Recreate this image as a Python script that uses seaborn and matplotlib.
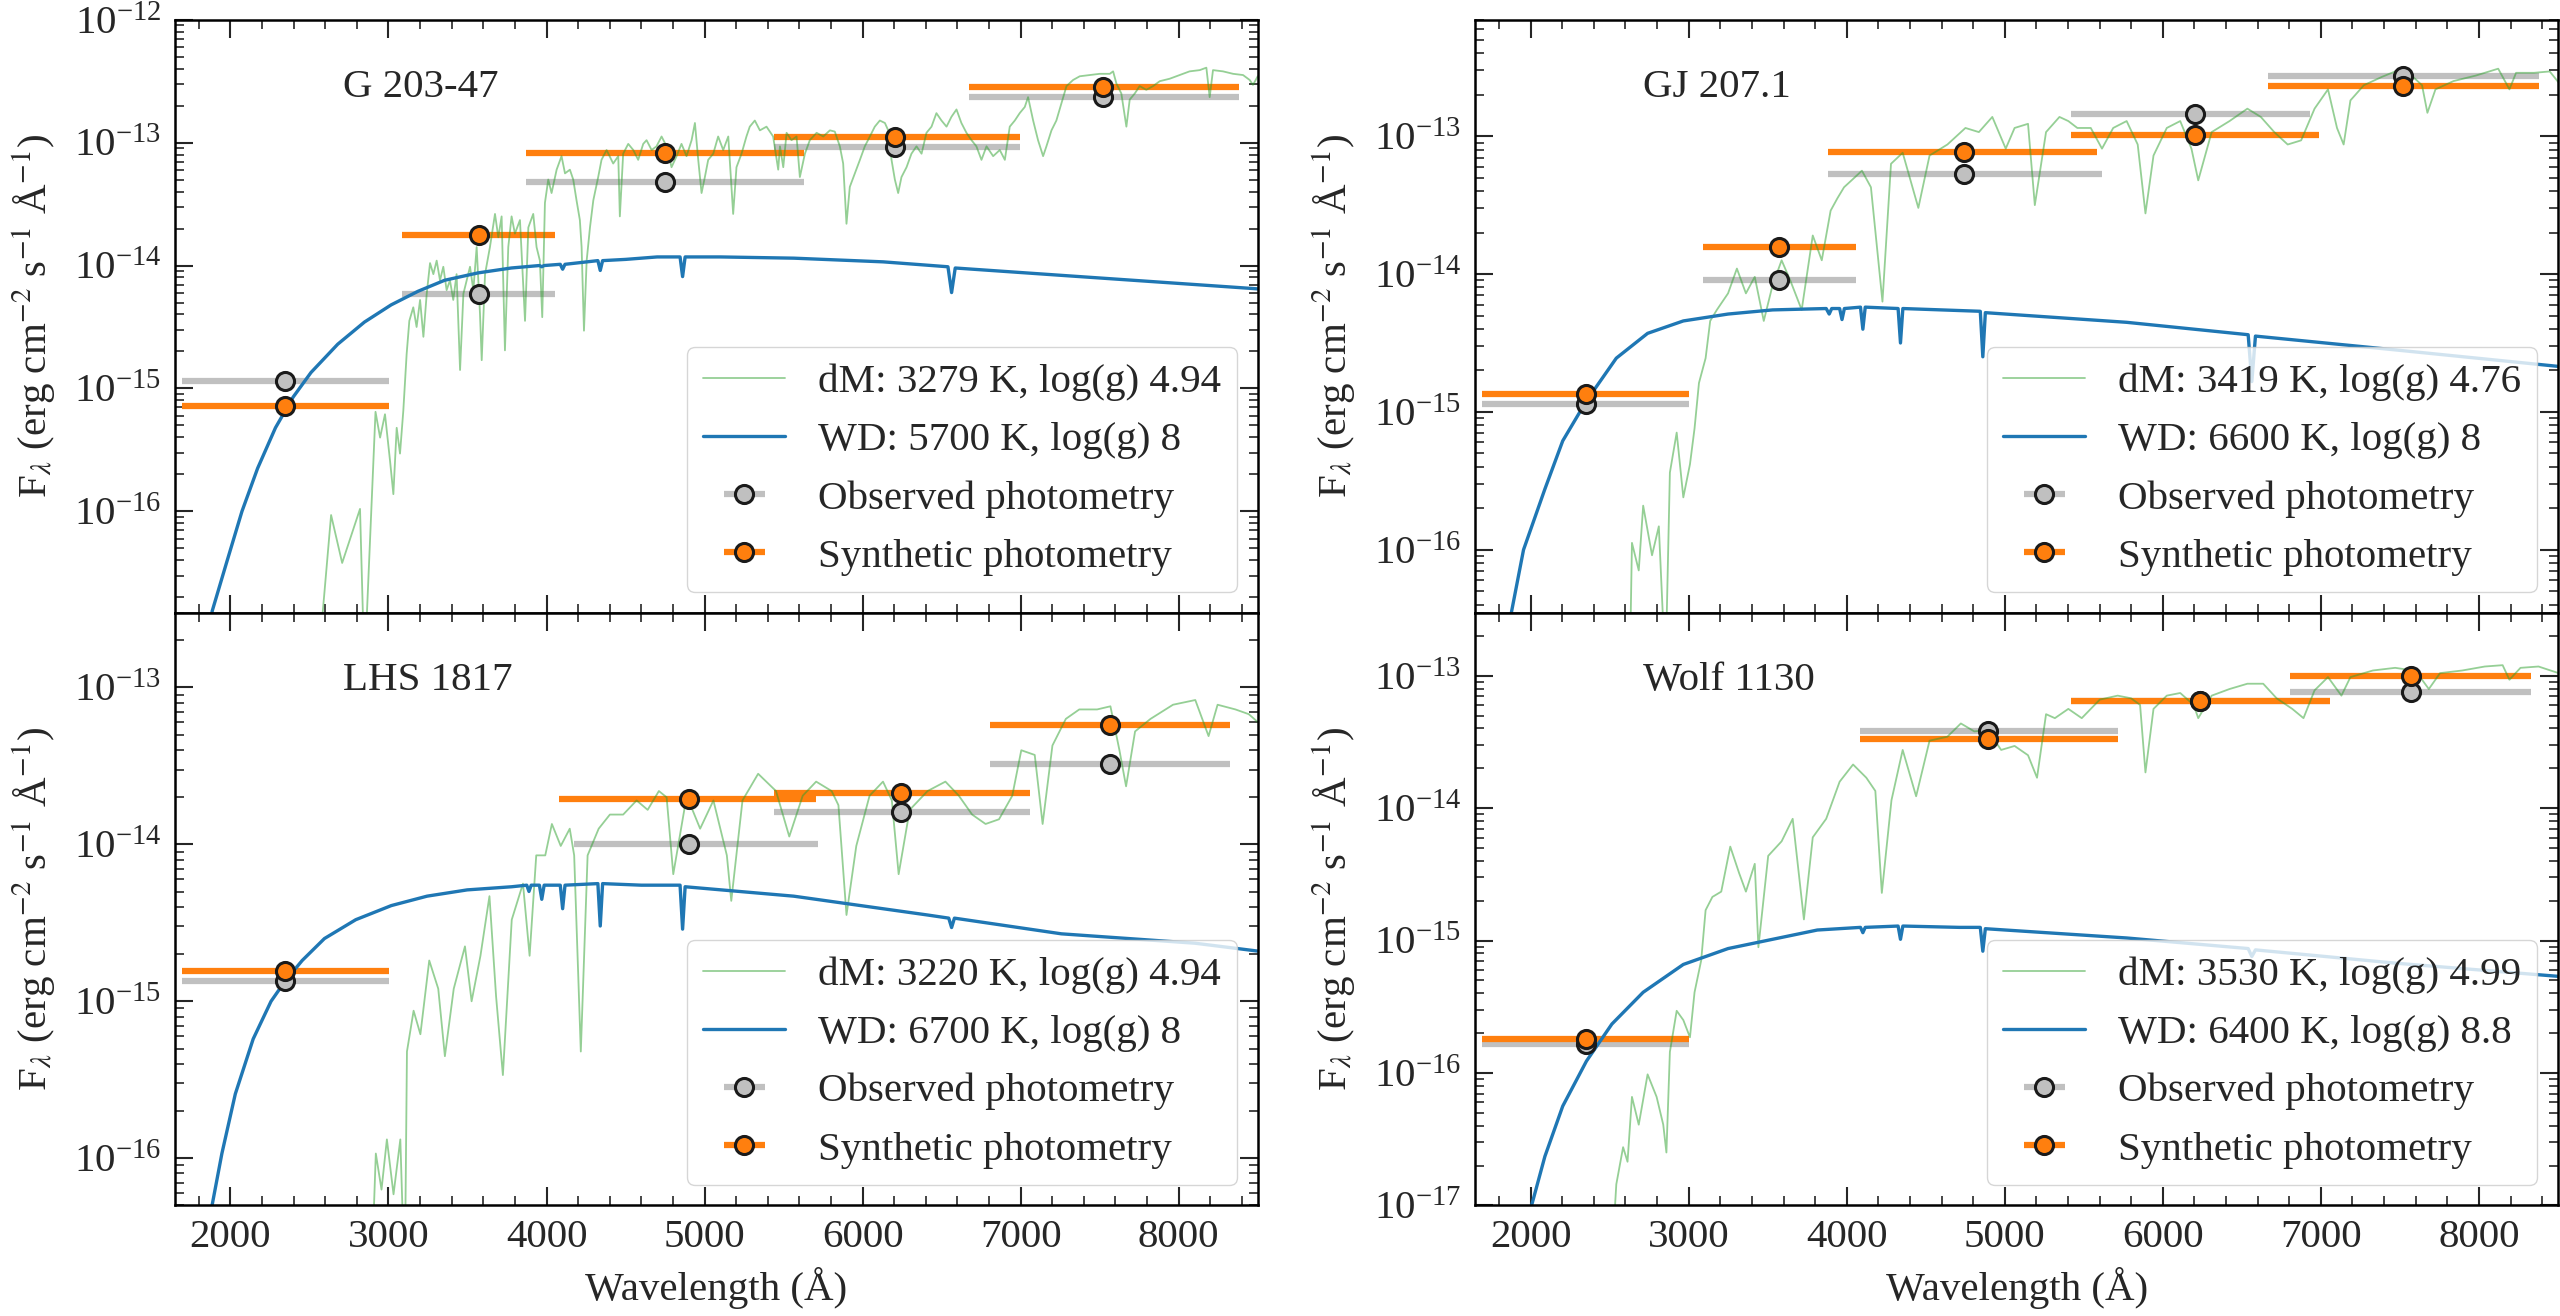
import numpy as np
import matplotlib
matplotlib.use('Agg')
import matplotlib.pyplot as plt
from matplotlib.ticker import MultipleLocator, LogLocator, NullFormatter
import seaborn as sns

# spectra: (wavelength in A, log10 flux)

g203_dm = [(2552, -17.3), (2637, -16.03), (2707, -16.42), (2820, -15.98), (2848, -17.3), (2918, -15.19),
           (2947, -15.40), (2978, -15.21), (3010, -15.59), (3031, -15.86), (3052, -15.32), (3073, -15.53),
           (3094, -15.18), (3115, -14.72), (3132, -14.45), (3157, -14.34), (3178, -14.50), (3200, -14.28),
           (3221, -14.58), (3242, -14.23), (3263, -13.98), (3284, -14.07), (3305, -13.96), (3326, -14.12),
           (3347, -14.01), (3368, -14.20), (3389, -14.12), (3410, -14.28), (3431, -14.07), (3453, -14.85),
           (3474, -14.23), (3495, -14.12), (3516, -14.01), (3537, -14.20), (3558, -13.85), (3579, -14.39),
           (3590, -14.77), (3611, -14.07), (3642, -13.85), (3674, -13.58), (3695, -13.77), (3716, -13.60),
           (3737, -14.69), (3758, -13.85), (3779, -13.60), (3800, -13.74), (3832, -13.63), (3864, -14.45),
           (3885, -13.69), (3916, -13.58), (3937, -13.85), (3958, -13.96), (3973, -14.42), (3990, -13.49),
           (4011, -13.30), (4032, -13.41), (4064, -13.22), (4095, -13.11), (4117, -13.25), (4148, -13.22),
           (4169, -13.30), (4190, -13.47), (4211, -13.63), (4222, -13.85), (4237, -14.53), (4254, -13.96),
           (4275, -13.69), (4296, -13.47), (4327, -13.28), (4348, -13.14), (4380, -13.06), (4422, -13.17),
           (4454, -13.11), (4464, -13.60), (4485, -13.09), (4517, -13.01), (4549, -13.06), (4580, -13.14),
           (4612, -13.01), (4633, -12.98), (4665, -13.06), (4696, -13.03), (4728, -12.95), (4760, -13.03),
           (4791, -13.20), (4823, -13.11), (4854, -13.01), (4886, -13.11), (4918, -12.98), (4939, -12.84),
           (4960, -13.14), (4981, -13.41), (5002, -13.28), (5023, -13.14), (5055, -13.09), (5086, -12.95),
           (5118, -13.06), (5150, -12.95), (5181, -13.58), (5202, -13.20), (5234, -13.09), (5265, -12.95),
           (5286, -12.87), (5318, -12.82), (5350, -12.90), (5392, -12.87), (5434, -12.95), (5466, -13.22),
           (5477, -13.03), (5498, -13.20), (5519, -12.92), (5550, -12.98), (5582, -12.95), (5603, -13.28),
           (5635, -13.09), (5666, -12.98), (5709, -12.92), (5751, -12.95), (5793, -12.90), (5824, -12.91),
           (5856, -13.03), (5877, -13.17), (5898, -13.66), (5919, -13.36), (5951, -13.25), (5983, -13.14),
           (6014, -13.03), (6046, -12.95), (6077, -12.87), (6109, -12.82), (6141, -12.84), (6162, -12.90),
           (6183, -13.14), (6204, -13.30), (6225, -13.41), (6246, -13.28), (6278, -13.20), (6309, -13.09),
           (6341, -13.03), (6373, -13.09), (6404, -12.92), (6436, -12.87), (6467, -12.76), (6499, -12.82),
           (6531, -12.87), (6562, -12.79), (6594, -12.73), (6625, -12.84), (6657, -12.92), (6689, -12.98),
           (6720, -13.03), (6752, -13.14), (6784, -13.03), (6826, -13.11), (6868, -13.06), (6900, -13.14),
           (6931, -12.87), (6963, -12.82), (6994, -12.76), (7026, -12.71), (7047, -12.63), (7079, -12.82),
           (7110, -12.98), (7142, -13.11), (7163, -13.03), (7195, -12.90), (7226, -12.82), (7258, -12.68),
           (7290, -12.54), (7332, -12.49), (7374, -12.46), (7437, -12.45), (7500, -12.44), (7564, -12.44),
           (7585, -12.42), (7606, -12.52), (7637, -12.60), (7669, -12.87), (7690, -12.65), (7722, -12.60),
           (7753, -12.54), (7795, -12.57), (7838, -12.54), (7880, -12.50), (7943, -12.48), (8006, -12.45),
           (8069, -12.42), (8133, -12.41), (8175, -12.39), (8196, -12.63), (8217, -12.41), (8280, -12.42),
           (8344, -12.44), (8407, -12.45), (8449, -12.49), (8470, -12.53), (8500, -12.46)]
g203_wd = [(1840, -17.2), (1885, -16.81), (1975, -16.42), (2073, -16.00), (2172, -15.65), (2285, -15.32),
           (2397, -15.07), (2510, -14.87), (2679, -14.64), (2848, -14.46), (3017, -14.32), (3186, -14.21),
           (3355, -14.12), (3566, -14.06), (3777, -14.02), (3955, -14.00), (3970, -14.01), (3985, -14.00),
           (4087, -13.99), (4102, -14.03), (4117, -13.99), (4325, -13.96), (4340, -14.04), (4355, -13.96),
           (4500, -13.95), (4700, -13.93), (4845, -13.93), (4861, -14.09), (4877, -13.93), (5100, -13.93),
           (5565, -13.94), (6130, -13.97), (6540, -14.01), (6563, -14.22), (6586, -14.02), (7260, -14.08),
           (7825, -14.13), (8503, -14.19)]

gj207_dm = [(2627, -16.9), (2641, -15.95), (2684, -16.15), (2712, -15.68), (2768, -16.04), (2811, -15.83),
            (2853, -16.9), (2881, -15.44), (2924, -15.15), (2966, -15.62), (3008, -15.38), (3037, -15.12),
            (3065, -14.79), (3107, -14.61), (3136, -14.34), (3178, -14.26), (3249, -14.14), (3305, -13.96),
            (3362, -14.14), (3418, -14.02), (3475, -14.34), (3531, -14.08), (3588, -13.90), (3644, -14.05),
            (3715, -14.26), (3785, -13.72), (3842, -13.90), (3898, -13.54), (3941, -13.45), (3983, -13.37),
            (4040, -13.31), (4096, -13.25), (4153, -13.37), (4226, -14.20), (4280, -13.20), (4354, -13.12),
            (4453, -13.52), (4524, -13.14), (4637, -13.06), (4751, -12.94), (4836, -12.97), (4921, -12.86),
            (5006, -13.09), (5062, -12.94), (5147, -12.91), (5190, -13.50), (5261, -12.97), (5346, -12.86),
            (5402, -12.89), (5459, -12.94), (5544, -12.94), (5615, -13.09), (5686, -12.94), (5771, -12.89),
            (5841, -13.06), (5890, -13.56), (5941, -13.14), (6025, -12.94), (6110, -12.89), (6181, -13.09),
            (6224, -13.32), (6309, -12.97), (6422, -12.89), (6535, -12.80), (6620, -12.86), (6705, -12.97),
            (6790, -13.06), (6875, -13.03), (6960, -12.80), (7045, -12.66), (7102, -12.94), (7144, -13.06),
            (7187, -12.74), (7272, -12.63), (7385, -12.57), (7470, -12.53), (7555, -12.54), (7640, -12.63),
            (7674, -12.83), (7725, -12.66), (7839, -12.60), (7980, -12.56), (8122, -12.51), (8193, -12.66),
            (8235, -12.54), (8348, -12.54), (8448, -12.53), (8504, -12.61)]
gj207_wd = [(1860, -16.7), (1879, -16.45), (1955, -16.00), (2090, -15.56), (2203, -15.21), (2353, -14.92),
            (2542, -14.61), (2740, -14.43), (2966, -14.34), (3249, -14.29), (3531, -14.26), (3870, -14.25),
            (3889, -14.29), (3905, -14.25), (3955, -14.25), (3970, -14.33), (3985, -14.25), (4087, -14.24),
            (4102, -14.40), (4117, -14.24), (4325, -14.25), (4340, -14.50), (4355, -14.25), (4600, -14.26),
            (4845, -14.27), (4861, -14.60), (4877, -14.28), (5771, -14.35), (6540, -14.44), (6563, -14.78),
            (6586, -14.45), (7470, -14.55), (8504, -14.67)]

lhs_dm = [(2891, -16.8), (2920, -15.97), (2956, -16.20), (2990, -15.88), (3032, -16.23), (3075, -15.88),
          (3103, -16.8), (3117, -15.32), (3159, -15.06), (3202, -15.21), (3258, -14.74), (3315, -14.92),
          (3357, -15.35), (3413, -14.92), (3484, -14.65), (3526, -15.00), (3582, -14.71), (3639, -14.33),
          (3681, -14.97), (3724, -15.47), (3780, -14.48), (3851, -14.25), (3893, -14.71), (3935, -14.07),
          (3992, -14.07), (4034, -13.87), (4090, -14.01), (4147, -13.90), (4175, -14.07), (4217, -15.32),
          (4260, -14.07), (4330, -13.90), (4401, -13.81), (4485, -13.81), (4570, -13.72), (4640, -13.78),
          (4711, -13.66), (4760, -13.70), (4802, -14.19), (4887, -13.69), (4972, -13.90), (5056, -13.72),
          (5141, -14.07), (5169, -14.36), (5240, -13.72), (5339, -13.55), (5452, -13.66), (5536, -13.95),
          (5621, -13.69), (5706, -13.60), (5804, -13.66), (5847, -13.75), (5898, -14.45), (5960, -14.01),
          (6044, -13.69), (6129, -13.60), (6185, -13.72), (6228, -14.19), (6298, -13.78), (6411, -13.66),
          (6524, -13.60), (6609, -13.69), (6693, -13.81), (6778, -13.87), (6863, -13.84), (6947, -13.69),
          (7004, -13.40), (7089, -13.43), (7139, -13.87), (7201, -13.37), (7286, -13.20), (7371, -13.14),
          (7484, -13.14), (7568, -13.12), (7625, -13.40), (7667, -13.63), (7724, -13.28), (7822, -13.20),
          (7964, -13.11), (8105, -13.08), (8189, -13.31), (8246, -13.11), (8359, -13.14), (8443, -13.17),
          (8500, -13.22)]
lhs_wd = [(1860, -16.7), (1884, -16.30), (1946, -15.97), (2031, -15.59), (2144, -15.24), (2257, -15.00),
          (2347, -14.87), (2454, -14.74), (2595, -14.60), (2793, -14.48), (3018, -14.39), (3244, -14.33),
          (3498, -14.29), (3780, -14.27), (3875, -14.26), (3889, -14.30), (3903, -14.26), (3955, -14.26),
          (3970, -14.35), (3985, -14.26), (4087, -14.26), (4102, -14.41), (4117, -14.26), (4325, -14.25),
          (4340, -14.52), (4355, -14.25), (4600, -14.26), (4845, -14.26), (4861, -14.54), (4877, -14.27),
          (5564, -14.33), (6411, -14.45), (6545, -14.47), (6563, -14.53), (6581, -14.47), (7258, -14.57),
          (8105, -14.63), (8500, -14.68)]

wolf_dm = [(2514, -17.4), (2542, -16.84), (2585, -16.56), (2613, -16.67), (2641, -16.18), (2684, -16.39),
           (2740, -16.01), (2797, -16.18), (2839, -16.39), (2859, -16.60), (2881, -15.84), (2924, -15.53),
           (2966, -15.60), (3008, -15.73), (3037, -15.39), (3079, -15.15), (3107, -14.77), (3150, -14.67),
           (3206, -14.63), (3263, -14.29), (3319, -14.49), (3362, -14.63), (3418, -14.42), (3441, -15.05),
           (3503, -14.36), (3588, -14.25), (3658, -14.08), (3729, -14.84), (3785, -14.22), (3870, -14.08),
           (3955, -13.80), (4040, -13.67), (4124, -13.77), (4181, -13.87), (4222, -14.64), (4283, -13.94),
           (4354, -13.56), (4439, -13.91), (4524, -13.49), (4637, -13.46), (4722, -13.36), (4807, -13.42),
           (4892, -13.41), (4977, -13.56), (5062, -13.53), (5147, -13.60), (5204, -13.77), (5261, -13.29),
           (5317, -13.32), (5402, -13.25), (5487, -13.32), (5601, -13.18), (5714, -13.15), (5799, -13.17),
           (5856, -13.22), (5890, -13.73), (5941, -13.25), (6025, -13.15), (6110, -13.13), (6195, -13.22),
           (6224, -13.32), (6309, -13.15), (6422, -13.10), (6535, -13.06), (6635, -13.06), (6720, -13.17),
           (6819, -13.25), (6890, -13.32), (6960, -13.11), (7045, -13.01), (7130, -13.15), (7187, -13.01),
           (7329, -12.96), (7470, -12.94), (7584, -12.96), (7640, -13.03), (7683, -13.10), (7754, -12.98),
           (7895, -12.96), (8037, -12.93), (8150, -12.92), (8193, -13.03), (8263, -12.94), (8377, -12.93),
           (8504, -12.98)]
wolf_wd = [(1990, -17.2), (2006, -17.0), (2090, -16.63), (2203, -16.25), (2353, -15.91), (2514, -15.63),
           (2712, -15.39), (2966, -15.18), (3249, -15.06), (3531, -14.99), (3814, -14.92), (4087, -14.90),
           (4102, -14.94), (4117, -14.90), (4325, -14.89), (4340, -14.99), (4355, -14.89), (4712, -14.90),
           (4845, -14.90), (4861, -15.08), (4877, -14.91), (5771, -14.98), (6540, -15.06), (6563, -15.12),
           (6586, -15.07), (7470, -15.17), (8504, -15.27)]

# photometry: band centre, bar edges, fluxes
g203_cen = [2346, 3570, 4750, 6208, 7520]
g203_obs_lo = [1693, 3087, 3870, 5437, 6671]
g203_obs_hi = [3003, 4054, 5630, 6998, 8379]
g203_syn_lo = [1693, 3087, 3870, 5437, 6671]
g203_syn_hi = [3003, 4054, 5630, 6998, 8379]
g203_obs = [1.16e-15, 5.9e-15, 4.8e-14, 9.3e-14, 2.34e-13]
g203_syn = [7.2e-16, 1.78e-14, 8.3e-14, 1.12e-13, 2.86e-13]

gj207_cen = [2353, 3573, 4742, 6201, 7518]
gj207_obs_lo = [1695, 3093, 3879, 5416, 6663]
gj207_obs_hi = [3000, 4059, 5615, 6932, 8377]
gj207_syn_lo = [1695, 3093, 3879, 5416, 6663]
gj207_syn_hi = [3000, 4059, 5586, 6989, 8377]
gj207_obs = [1.15e-15, 9.1e-15, 5.3e-14, 1.46e-13, 2.75e-13]
gj207_syn = [1.34e-15, 1.57e-14, 7.7e-14, 1.02e-13, 2.33e-13]

lhs_cen = [2347, 4900, 6245, 7568]
lhs_obs_lo = [1693, 4175, 5437, 6806]
lhs_obs_hi = [3004, 5720, 7060, 8325]
lhs_syn_lo = [1693, 4076, 5437, 6806]
lhs_syn_hi = [3004, 5706, 7060, 8325]
lhs_obs = [1.34e-15, 1.0e-14, 1.61e-14, 3.26e-14]
lhs_syn = [1.57e-15, 1.95e-14, 2.11e-14, 5.77e-14]

wolf_cen = [2353, 4892, 6238, 7569]
wolf_obs_lo = [1695, 4082, 5416, 6805]
wolf_obs_hi = [3000, 5714, 7059, 8329]
wolf_syn_lo = [1695, 4082, 5416, 6805]
wolf_syn_hi = [3000, 5714, 7059, 8329]
wolf_obs = [1.66e-16, 3.86e-14, 6.4e-14, 7.57e-14]
wolf_syn = [1.80e-16, 3.34e-14, 6.46e-14, 1.0e-13]

names = ['G 203-47', 'GJ 207.1', 'LHS 1817', 'Wolf 1130']
dm_labels = ['dM: 3279 K, log(g) 4.94', 'dM: 3419 K, log(g) 4.76',
             'dM: 3220 K, log(g) 4.94', 'dM: 3530 K, log(g) 4.99']
wd_labels = ['WD: 5700 K, log(g) 8', 'WD: 6600 K, log(g) 8',
             'WD: 6700 K, log(g) 8', 'WD: 6400 K, log(g) 8.8']
ylims = [(1.5e-17, 1e-12), (3.5e-17, 7e-13), (5e-17, 3e-13), (1e-17, 3e-13)]

FS = 29.5
GREY = '#c0c0c0'
ORANGE = '#ff7f0e'

sns.set_theme(style='ticks')
plt.rcParams['font.family'] = ['Liberation Serif', 'DejaVu Serif']
plt.rcParams['mathtext.fontset'] = 'stix'


def draw_phot(ax, cen, lo, hi, flux, face, z):
    cen = np.array(cen)
    err = [cen - np.array(lo), np.array(hi) - cen]
    cont = ax.errorbar(cen, flux, xerr=err, fmt='o', color=face, mfc=face, mec='k', mew=2.2,
                       ms=13, elinewidth=4.5, capsize=0)
    cont[0].set_zorder(z + 4)
    for c in cont[2]:
        c.set_zorder(z)
    return cont


def draw_panel(ax, i, dm, wd, phot):
    dm_wl, dm_lf = zip(*dm)
    sns.lineplot(x=list(dm_wl), y=10 ** np.array(dm_lf), ax=ax, color='#2ca02c', alpha=0.5,
                 linewidth=1.3, estimator=None, sort=False, zorder=2)
    dm_line = ax.lines[-1]
    wd_wl, wd_lf = zip(*wd)
    sns.lineplot(x=list(wd_wl), y=10 ** np.array(wd_lf), ax=ax, color='#1f77b4',
                 linewidth=2.4, estimator=None, sort=False, zorder=2.5)
    wd_line = ax.lines[-1]

    cen, olo, ohi, osyn_lo, osyn_hi, obs, syn = phot
    obs_c = draw_phot(ax, cen, olo, ohi, obs, GREY, 1.0)
    syn_c = draw_phot(ax, cen, osyn_lo, osyn_hi, syn, ORANGE, 1.2)

    ax.set_yscale('log')
    ax.set_xlim(1650, 8500)
    ax.set_ylim(*ylims[i])
    ax.xaxis.set_major_locator(MultipleLocator(1000))
    ax.xaxis.set_minor_locator(MultipleLocator(200))
    ax.yaxis.set_major_locator(LogLocator(base=10, numticks=15))
    ax.yaxis.set_minor_locator(LogLocator(base=10, subs=np.arange(2, 10), numticks=15))
    ax.yaxis.set_minor_formatter(NullFormatter())
    ax.tick_params(which='major', direction='in', length=13, width=1.5, top=True, right=True,
                   labelsize=FS, pad=10)
    ax.tick_params(which='minor', direction='in', length=6.5, width=1.2, top=True, right=True)
    for sp in ax.spines.values():
        sp.set_linewidth(1.8)
        sp.set_color('black')

    ax.set_ylabel(r'F$_\lambda$ (erg cm$^{-2}$ s$^{-1}$ Å$^{-1}$)', fontsize=FS, labelpad=12)
    ax.set_xlabel('')
    ax.text(0.155, 0.885, names[i], transform=ax.transAxes, fontsize=FS, va='center', ha='left')

    ax.legend([dm_line, wd_line, obs_c, syn_c],
              [dm_labels[i], wd_labels[i], 'Observed photometry', 'Synthetic photometry'],
              loc='lower right', fontsize=FS, framealpha=0.8)


fig, axes = plt.subplots(2, 2, figsize=(25.6, 13.16), dpi=100, sharex=True)
fig.subplots_adjust(left=0.0684, right=0.9992, top=0.985, bottom=0.084, wspace=0.201, hspace=0)

draw_panel(axes[0, 0], 0, g203_dm, g203_wd,
           (g203_cen, g203_obs_lo, g203_obs_hi, g203_syn_lo, g203_syn_hi, g203_obs, g203_syn))
draw_panel(axes[0, 1], 1, gj207_dm, gj207_wd,
           (gj207_cen, gj207_obs_lo, gj207_obs_hi, gj207_syn_lo, gj207_syn_hi, gj207_obs, gj207_syn))
draw_panel(axes[1, 0], 2, lhs_dm, lhs_wd,
           (lhs_cen, lhs_obs_lo, lhs_obs_hi, lhs_syn_lo, lhs_syn_hi, lhs_obs, lhs_syn))
draw_panel(axes[1, 1], 3, wolf_dm, wolf_wd,
           (wolf_cen, wolf_obs_lo, wolf_obs_hi, wolf_syn_lo, wolf_syn_hi, wolf_obs, wolf_syn))

for ax in axes[1]:
    ax.set_xlabel('Wavelength (Å)', fontsize=FS, labelpad=8)

fig.savefig('out.png', dpi=100)
